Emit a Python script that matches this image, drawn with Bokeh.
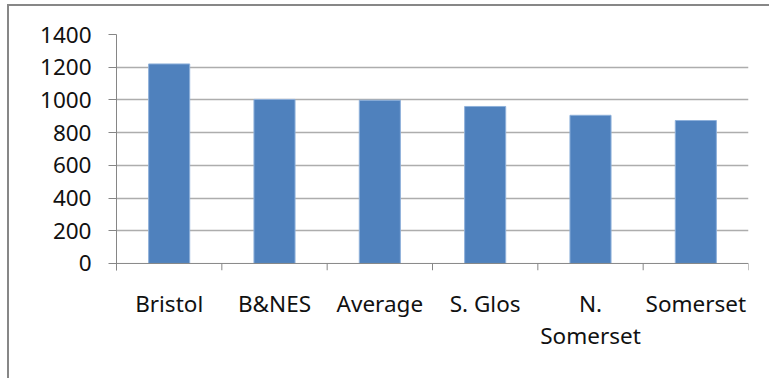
from bokeh.plotting import figure
from bokeh.models import Range1d, FixedTicker, Span, ColumnDataSource
from bokeh.embed import file_html
from bokeh.resources import INLINE

# Data
areas = ["Bristol", "B&NES", "Average", "S. Glos", "N. Somerset", "Somerset"]
area_labels = ["Bristol", "B&NES", "Average", "S. Glos", "N.\nSomerset", "Somerset"]
values = [1220, 1003, 998, 960, 906, 874]
y_ticks = [0, 200, 400, 600, 800, 1000, 1200, 1400]

FONT = "Noto Sans"
FONT_SIZE = "22.5px"
AXIS_GREY = "#868686"
EDGE_GREY = "#878787"

n = len(areas)
centers = [i + 0.5 for i in range(n)]
boundaries = list(range(n + 1))

p = figure(width=769, height=378, output_backend="svg", toolbar_location=None,
           x_range=Range1d(0, n), y_range=Range1d(-43, 1400),
           min_border_left=116, min_border_right=21,
           min_border_top=34, min_border_bottom=108)
p.outline_line_color = None
p.background_fill_color = "white"
p.border_fill_alpha = 0

# Chart area edge lines (top and left), painted behind the transparent border
edge = f"linear-gradient({EDGE_GREY}, {EDGE_GREY})"
p.styles = {
    "background": (f"{edge} 7px 4px / 2px 374px no-repeat, "
                   f"{edge} 7px 4px / 762px 2px no-repeat, white"),
    "overflow": "hidden",
}

# Horizontal gridlines
p.xgrid.visible = False
p.ygrid.ticker = FixedTicker(ticks=y_ticks[1:])
p.ygrid.grid_line_color = "#adadad"
p.ygrid.grid_line_width = 1.3

# Columns
src = ColumnDataSource(dict(x=centers, top=values))
p.vbar(x="x", top="top", bottom=0, width=0.39, source=src,
       fill_color="#4F81BD", line_color="#8eb0da", line_width=1)

# Category axis line at zero and tick marks between categories
p.add_layout(Span(location=0, dimension="width", line_color=AXIS_GREY, line_width=1))
p.segment(x0=boundaries, y0=[0] * len(boundaries), x1=boundaries, y1=[-43] * len(boundaries),
          line_color=AXIS_GREY, line_width=1)

# Value axis
p.yaxis.ticker = FixedTicker(ticks=y_ticks)
p.yaxis.major_tick_out = 8
p.yaxis.major_tick_in = 0
p.yaxis.minor_tick_out = 0
p.yaxis.minor_tick_in = 0
p.yaxis.axis_line_color = AXIS_GREY
p.yaxis.major_tick_line_color = AXIS_GREY
p.yaxis.major_label_text_font = FONT
p.yaxis.major_label_text_font_size = FONT_SIZE
p.yaxis.major_label_text_color = "#111111"
p.yaxis.major_label_standoff = 17

# Category labels
p.xaxis.ticker = FixedTicker(ticks=centers)
p.xaxis.major_label_overrides = {c: lab for c, lab in zip(centers, area_labels)}
p.xaxis.axis_line_color = None
p.xaxis.major_tick_line_color = None
p.xaxis.minor_tick_line_color = None
p.xaxis.major_label_text_font = FONT
p.xaxis.major_label_text_font_size = FONT_SIZE
p.xaxis.major_label_text_color = "#111111"
p.xaxis.major_label_text_line_height = 1.05
p.xaxis.major_label_standoff = 11

open("out.html", "w").write(file_html(p, INLINE))
